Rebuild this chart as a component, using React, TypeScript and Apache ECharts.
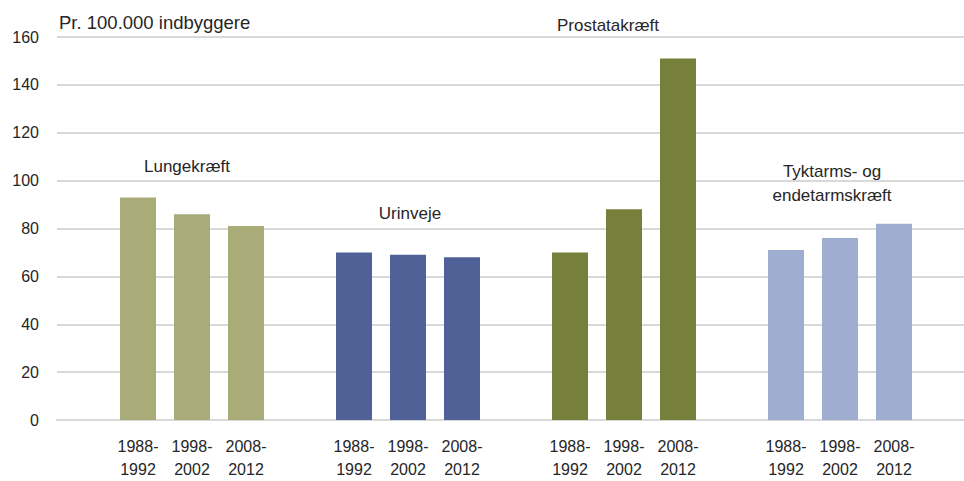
import React, { useEffect, useRef } from "react";
import * as echarts from "echarts";

const periods = ["1988-\n1992", "1998-\n2002", "2008-\n2012"];
const groupNames = ["Lungekræft", "Urinveje", "Prostatakræft", "Tyktarms- og\nendetarmskræft"];
const lungekraeft = [93, 86, 81];
const urinveje = [70, 69, 68];
const prostatakraeft = [70, 88, 151];
const tyktarmskraeft = [71, 76, 82];
const groupColors = ["#a9ab78", "#4f6197", "#77803b", "#9eadd0"];
const yTitle = "Pr. 100.000 indbyggere";

const FONT = "'Liberation Sans', Arial, sans-serif";

export default function App() {
  const ref = useRef<HTMLDivElement>(null);
  useEffect(() => {
    if (!ref.current) return;
    const chart = echarts.init(ref.current, undefined, { renderer: "svg" });
    const groupsValues = [lungekraeft, urinveje, prostatakraeft, tyktarmskraeft];
    const categories: string[] = [];
    const data: any[] = [];
    groupsValues.forEach((vals, gi) => {
      categories.push("");
      data.push("-");
      vals.forEach((v, i) => {
        categories.push(periods[i]);
        data.push({ value: v, itemStyle: { color: groupColors[gi] } });
      });
    });
    categories.push("");
    data.push("-");

    const labelPos = [
      { x: 187, y: 166 },
      { x: 410, y: 213 },
      { x: 608, y: 25 },
      { x: 832, y: 183 },
    ];

    chart.setOption({
      animation: false,
      textStyle: { fontFamily: FONT },
      grid: { left: 57, right: 0, top: 37, bottom: 59, containLabel: false },
      xAxis: {
        type: "category",
        data: categories,
        axisTick: { show: false },
        axisLine: { show: true, lineStyle: { color: "#d9d9d9", width: 2 } },
        axisLabel: {
          interval: 0,
          color: "#262626",
          fontSize: 16,
          lineHeight: 23,
          margin: 15,
          fontFamily: FONT,
        },
      },
      yAxis: {
        type: "value",
        min: 0,
        max: 160,
        interval: 20,
        axisLine: { show: false },
        axisTick: { show: false },
        axisLabel: { color: "#262626", fontSize: 16, margin: 18, fontFamily: FONT },
        splitLine: { show: true, lineStyle: { color: "#d9d9d9", width: 2 } },
      },
      graphic: [
        {
          type: "text",
          left: 59,
          top: 13,
          style: { text: yTitle, fontSize: 18.5, fill: "#262626", fontFamily: FONT },
        },
        ...groupNames.map((name, i) => ({
          type: "text",
          x: labelPos[i].x,
          y: labelPos[i].y,
          style: {
            text: name,
            fontSize: 17,
            lineHeight: 24,
            fill: "#262626",
            fontFamily: FONT,
            align: "center",
            verticalAlign: "middle",
          },
        })),
      ],
      series: [
        {
          type: "bar",
          data,
          barWidth: 36,
        },
      ],
    });
    return () => chart.dispose();
  }, []);
  return (
    <div
      style={{
        position: "fixed",
        left: 0,
        top: 0,
        width: 964,
        height: 481,
        overflow: "hidden",
        background: "#fff",
      }}
    >
      <div ref={ref} style={{ width: 975, height: 481 }} />
    </div>
  );
}
